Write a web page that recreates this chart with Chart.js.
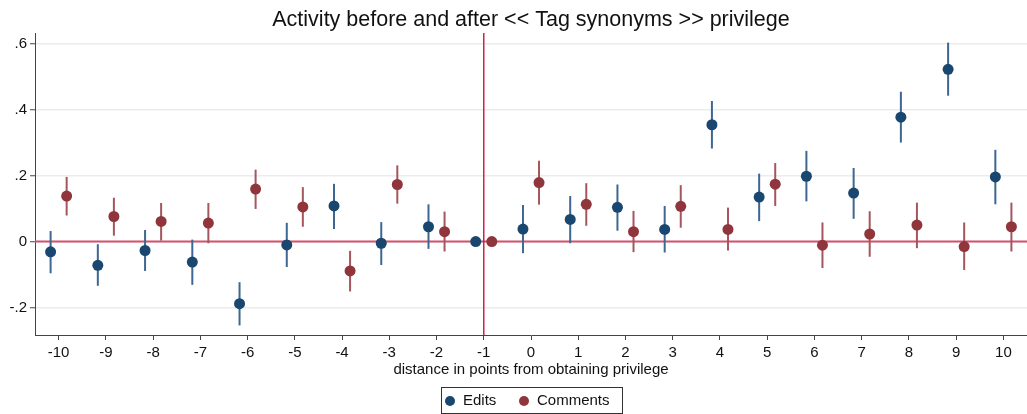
<!DOCTYPE html>
<html>
<head>
<meta charset="utf-8">
<script src="https://cdn.jsdelivr.net/npm/chart.js@4.4.1/dist/chart.umd.min.js"></script>
<style>
  html, body { margin: 0; padding: 0; background: #fff; }
  #wrap { width: 1027px; height: 414px; }
</style>
</head>
<body>
<div id="wrap"><canvas id="grafico" width="1027" height="414"></canvas></div>
<script>
// distancia en puntos desde el privilegio
const distancias = [-10, -9, -8, -7, -6, -5, -4, -3, -2, -1, 0, 1, 2, 3, 4, 5, 6, 7, 8, 9, 10];

const editsMedia = [-0.031, -0.072, -0.027, -0.062, -0.188, -0.010, 0.108, -0.005, 0.045, 0, 0.038, 0.067, 0.104, 0.037, 0.354, 0.135, 0.198, 0.147, 0.377, 0.522, 0.196];
const editsAlto  = [0.032, -0.008, 0.035, 0.006, -0.123, 0.057, 0.175, 0.059, 0.113, 0, 0.111, 0.138, 0.173, 0.108, 0.426, 0.206, 0.275, 0.223, 0.454, 0.603, 0.278];
const editsBajo  = [-0.096, -0.134, -0.089, -0.131, -0.254, -0.077, 0.038, -0.071, -0.022, 0, -0.035, -0.005, 0.033, -0.033, 0.282, 0.062, 0.122, 0.069, 0.300, 0.442, 0.113];

const commentsMedia = [0.138, 0.076, 0.061, 0.056, 0.159, 0.105, -0.089, 0.173, 0.030, 0, 0.179, 0.113, 0.030, 0.107, 0.037, 0.174, -0.011, 0.023, 0.050, -0.015, 0.045];
const commentsAlto  = [0.196, 0.133, 0.117, 0.117, 0.218, 0.165, -0.028, 0.231, 0.091, 0, 0.245, 0.177, 0.093, 0.171, 0.103, 0.238, 0.058, 0.092, 0.118, 0.058, 0.118];
const commentsBajo  = [0.079, 0.018, 0.003, -0.005, 0.099, 0.045, -0.151, 0.115, -0.030, 0, 0.112, 0.048, -0.032, 0.042, -0.027, 0.108, -0.080, -0.046, -0.020, -0.086, -0.030];

const yTicks = [-0.2, 0, 0.2, 0.4, 0.6];
const xTicks = distancias;

const desplazamiento = 0.17;
const fuente = "'Liberation Sans', Arial, sans-serif";

function armarPuntos(media, alto, bajo, dx) {
    return distancias.map((d, i) => ({ x: d + dx, y: media[i], alto: alto[i], bajo: bajo[i] }));
}

// barras de error detras de los puntos
const barrasError = {
    id: 'barrasError',
    beforeDatasetsDraw(chart) {
        const ctx = chart.ctx;
        const xs = chart.scales.x, ys = chart.scales.y;
        const area = chart.chartArea;

        // lineas de referencia
        ctx.save();
        ctx.strokeStyle = '#d4506f';
        ctx.lineWidth = 2;
        ctx.beginPath();
        ctx.moveTo(area.left, ys.getPixelForValue(0));
        ctx.lineTo(area.right, ys.getPixelForValue(0));
        ctx.stroke();
        ctx.strokeStyle = '#d2204a';
        ctx.lineWidth = 1.5;
        ctx.beginPath();
        ctx.moveTo(xs.getPixelForValue(-1), area.top);
        ctx.lineTo(xs.getPixelForValue(-1), area.bottom);
        ctx.stroke();

        chart.data.datasets.forEach((ds) => {
            ctx.strokeStyle = ds.colorError;
            ctx.lineWidth = 2;
            ds.data.forEach(p => {
                if (p.alto === p.bajo) return;
                const px = xs.getPixelForValue(p.x);
                ctx.beginPath();
                ctx.moveTo(px, ys.getPixelForValue(p.alto));
                ctx.lineTo(px, ys.getPixelForValue(p.bajo));
                ctx.stroke();
            });
        });
        ctx.restore();
    }
};

// titulo y leyenda con recuadro
const tituloLeyenda = {
    id: 'tituloLeyenda',
    afterDraw(chart) {
        const ctx = chart.ctx;
        const area = chart.chartArea;
        ctx.save();
        ctx.fillStyle = '#111';
        ctx.font = '21.5px ' + fuente;
        ctx.textAlign = 'center';
        ctx.textBaseline = 'alphabetic';
        ctx.fillText('Activity before and after << Tag synonyms >> privilege', (area.left + area.right) / 2, 26);

        // leyenda
        const x0 = 441, y0 = 387, ancho = 181, alto = 26;
        ctx.strokeStyle = '#333';
        ctx.lineWidth = 1;
        ctx.strokeRect(x0 + 0.5, y0 + 0.5, ancho, alto);
        ctx.font = '15px ' + fuente;
        ctx.textAlign = 'left';
        ctx.textBaseline = 'middle';
        const items = [
            { ds: chart.data.datasets[0], x: 450 },
            { ds: chart.data.datasets[1], x: 524 }
        ];
        items.forEach(it => {
            ctx.fillStyle = it.ds.backgroundColor;
            ctx.beginPath();
            ctx.arc(it.x, y0 + 14, 5, 0, Math.PI * 2);
            ctx.fill();
            ctx.fillStyle = '#111';
            ctx.fillText(it.ds.label, it.x + 13, y0 + 14);
        });
        ctx.restore();
    }
};

const ctx = document.getElementById('grafico').getContext('2d');
new Chart(ctx, {
    type: 'scatter',
    data: {
        datasets: [
            {
                label: 'Edits',
                data: armarPuntos(editsMedia, editsAlto, editsBajo, -desplazamiento),
                backgroundColor: '#1a476f',
                borderColor: '#1a476f',
                colorError: '#3d6791',
                pointRadius: 5.5,
                pointHoverRadius: 5.5,
                borderWidth: 0
            },
            {
                label: 'Comments',
                data: armarPuntos(commentsMedia, commentsAlto, commentsBajo, desplazamiento),
                backgroundColor: '#90353b',
                borderColor: '#90353b',
                colorError: '#a5565c',
                pointRadius: 5.5,
                pointHoverRadius: 5.5,
                borderWidth: 0
            }
        ]
    },
    options: {
        responsive: false,
        animation: false,
        layout: { autoPadding: false, padding: { top: 33, right: 0, bottom: 35, left: 0 } },
        scales: {
            x: {
                type: 'linear',
                min: -10.5,
                max: 10.5,
                afterBuildTicks: (s) => { s.ticks = xTicks.map(v => ({ value: v })); },
                afterFit: (s) => { s.height = 44; s.paddingRight = 0; s.paddingLeft = 0; },
                grid: { drawOnChartArea: false, drawTicks: true, tickLength: 5, tickColor: '#444', tickWidth: 1 },
                border: { display: true, color: '#444', width: 1 },
                ticks: {
                    autoSkip: false,
                    maxRotation: 0,
                    padding: 4,
                    color: '#111',
                    font: { family: fuente, size: 15 },
                    callback: (v) => String(v)
                },
                title: {
                    display: true,
                    text: 'distance in points from obtaining privilege',
                    color: '#111',
                    font: { family: fuente, size: 15 },
                    padding: { top: 0, bottom: 0 }
                }
            },
            y: {
                type: 'linear',
                min: -0.283,
                max: 0.632,
                afterBuildTicks: (s) => { s.ticks = yTicks.map(v => ({ value: v })); },
                afterFit: (s) => { s.width = 35; s.paddingTop = 0; s.paddingBottom = 0; },
                grid: { color: '#ececec', lineWidth: 1.5, drawTicks: true, tickLength: 5, tickColor: '#444', tickWidth: 1 },
                border: { display: true, color: '#444', width: 1 },
                ticks: {
                    padding: 3,
                    color: '#111',
                    font: { family: fuente, size: 15 },
                    callback: (v) => {
                        if (Math.abs(v) < 1e-9) return '0';
                        const s = v.toFixed(1);
                        return s.replace('0.', '.');
                    }
                }
            }
        },
        plugins: {
            legend: { display: false },
            title: { display: false },
            tooltip: { enabled: false }
        }
    },
    plugins: [barrasError, tituloLeyenda]
});
</script>
</body>
</html>
